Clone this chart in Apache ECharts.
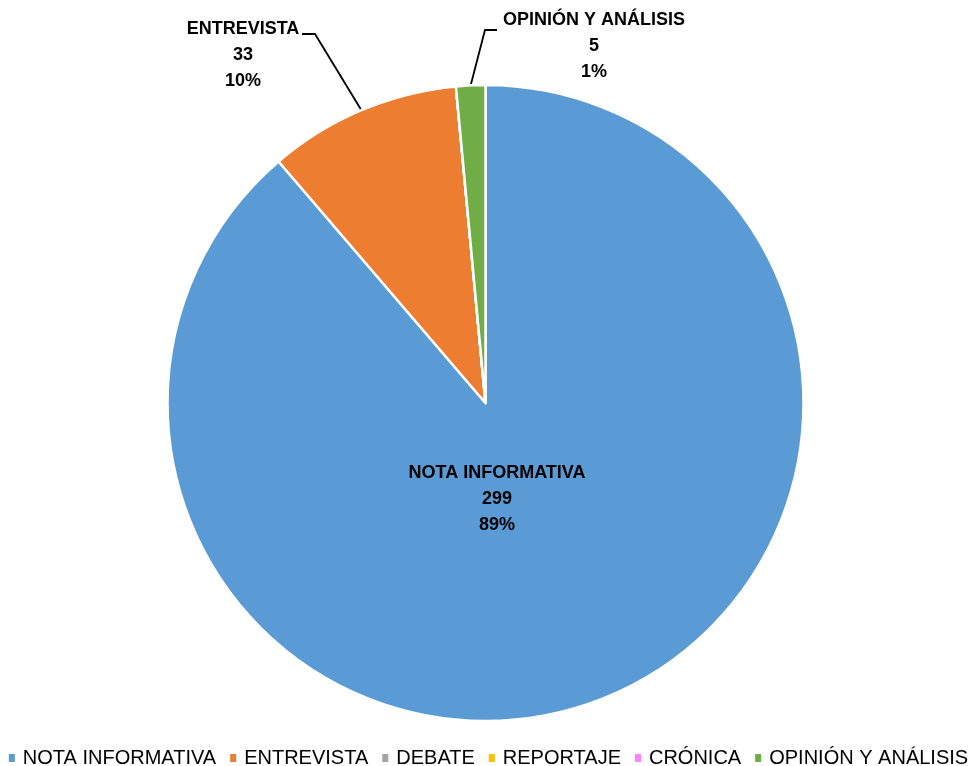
<!DOCTYPE html>
<html>
<head>
<meta charset="utf-8">
<script src="https://cdn.jsdelivr.net/npm/echarts@6/dist/echarts.min.js"></script>
<style>
  html, body { margin: 0; padding: 0; background: #fff; }
  #chart { width: 975px; height: 766px; }
</style>
</head>
<body>
<div id="chart"></div>
<script>
// datos
const categories = ['NOTA INFORMATIVA', 'ENTREVISTA', 'DEBATE', 'REPORTAJE', 'CRÓNICA', 'OPINIÓN Y ANÁLISIS']
const counts = [299, 33, 0, 0, 0, 5]
const colors = ['#5B9BD5', '#ED7D31', '#A5A5A5', '#FFC000', '#FF80FF', '#70AD47']

const fontFamily = '"Liberation Sans", Arial, sans-serif'

// posiciones de las etiquetas (como en Excel)
const labelSpots = {
  0: { x: 497, y: 499 },
  1: { x: 243, y: 55, bend: [315, 34], end: [302, 34] },
  5: { x: 594, y: 46, bend: [485, 30], end: [497, 30] }
}

const chart = echarts.init(document.getElementById('chart'))

const option = {
  animation: false,
  color: colors,
  legend: {
    data: categories,
    left: 'center',
    top: 743,
    itemWidth: 8,
    itemHeight: 10,
    itemGap: 12,
    selectedMode: false,
    icon: 'path://M0,0 L8,0 L8,10 L0,10 Z',
    textStyle: {
      fontFamily,
      fontSize: 20,
      color: '#000',
      padding: [0, 0, 0, 2]
    }
  },
  series: [{
    type: 'pie',
    center: [485.5, 403],
    radius: 318,
    startAngle: 90,
    clockwise: true,
    avoidLabelOverlap: false,
    percentPrecision: 0,
    itemStyle: { borderColor: '#fff', borderWidth: 2.5 },
    emphasis: { disabled: true },
    label: {
      show: true,
      position: 'outside',
      formatter: '{b}\n{c}\n{d}%',
      fontFamily,
      fontSize: 18,
      fontWeight: 'bold',
      color: '#000',
      lineHeight: 26
    },
    labelLine: {
      show: true,
      lineStyle: { color: '#000', width: 1.8 }
    },
    labelLayout: function (params) {
      const spot = labelSpots[params.dataIndex]
      if (!spot) return {}
      const out = { x: spot.x, y: spot.y, align: 'center', verticalAlign: 'middle' }
      if (spot.bend && params.labelLinePoints) {
        out.labelLinePoints = [params.labelLinePoints[0], spot.bend, spot.end]
      }
      return out
    },
    data: categories.map((name, i) => {
      const item = { name, value: counts[i] }
      if (i === 0) item.label = { position: 'inside' }
      if (counts[i] === 0) {
        item.label = { show: false }
        item.labelLine = { show: false }
      }
      return item
    })
  }]
}

chart.setOption(option)
</script>
</body>
</html>
